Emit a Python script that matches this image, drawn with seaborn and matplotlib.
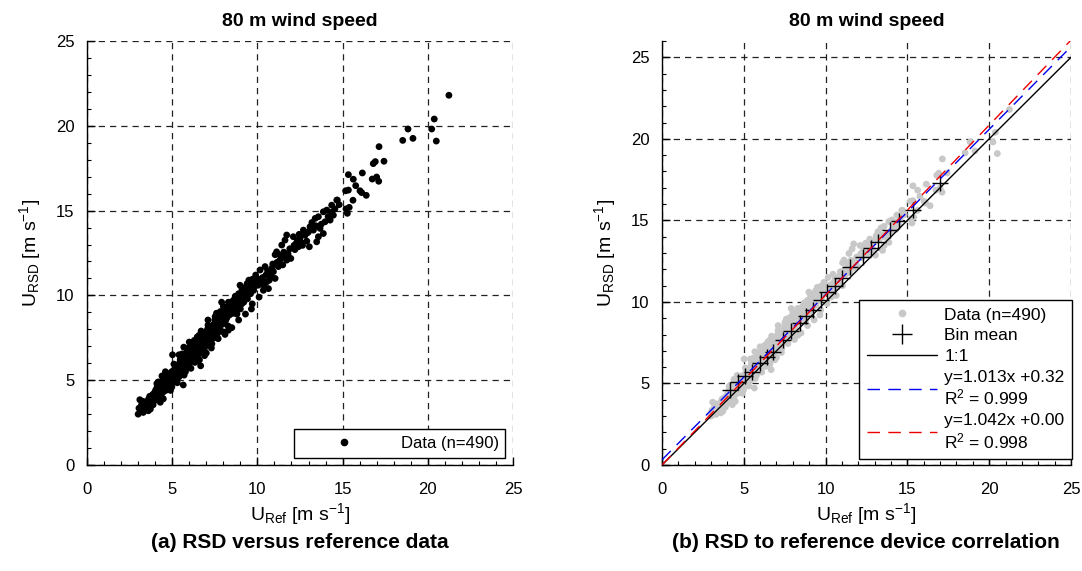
import numpy as np
import pandas as pd
import matplotlib
matplotlib.use("Agg")
import matplotlib.pyplot as plt
from matplotlib.lines import Line2D
from matplotlib.ticker import MultipleLocator
import seaborn as sns

# reference (x) and RSD (y) 80 m wind speed
u_ref = [
    3.0, 3.05, 3.1, 3.15, 3.2, 3.3, 3.35, 3.4, 3.45, 3.5,
    3.55, 3.6, 3.62, 3.7, 3.72, 3.78, 3.8, 3.85, 3.88, 3.9, 3.95, 3.97, 4.0, 3.68,
    4.02, 4.05, 4.08, 4.1, 4.12, 4.18, 4.2, 4.22, 4.25, 4.28, 4.3, 4.32, 4.35, 4.38, 4.4, 4.42, 4.45, 4.47, 4.48, 4.5,
    4.52, 4.55, 4.57, 4.6, 4.62, 4.65, 4.68, 4.7, 4.72, 4.75, 4.78, 4.8, 4.82, 4.85, 4.87, 4.9, 4.92, 4.95, 4.97, 4.98, 4.76, 4.88,
    5.0, 5.02, 5.04, 5.06, 5.08, 5.1, 5.12, 5.15, 5.17, 5.2, 5.22, 5.25, 5.27, 5.3, 5.32, 5.35, 5.37, 5.4, 5.42, 5.45, 5.47, 5.48, 5.5, 5.43, 5.18,
    5.52, 5.55, 5.57, 5.6, 5.62, 5.65, 5.67, 5.7, 5.72, 5.75, 5.77, 5.8, 5.82, 5.85, 5.87, 5.9, 5.92, 5.95, 5.97, 6.0, 5.58, 5.68, 5.88, 5.78, 5.93,
    6.02, 6.05, 6.07, 6.1, 6.12, 6.15, 6.17, 6.2, 6.22, 6.25, 6.27, 6.3, 6.32, 6.35, 6.37, 6.4, 6.42, 6.45, 6.47, 6.48, 6.5, 6.33, 6.13, 6.23, 6.43,
    6.52, 6.55, 6.57, 6.6, 6.62, 6.65, 6.67, 6.7, 6.72, 6.75, 6.77, 6.8, 6.82, 6.85, 6.87, 6.9, 6.92, 6.95, 6.97, 7.0, 6.58, 6.68, 6.78, 6.88, 6.98,
    7.02, 7.05, 7.07, 7.1, 7.12, 7.15, 7.17, 7.2, 7.22, 7.25, 7.27, 7.3, 7.32, 7.35, 7.37, 7.4, 7.42, 7.45, 7.47, 7.5, 7.33, 7.13,
    7.52, 7.55, 7.57, 7.6, 7.62, 7.65, 7.67, 7.7, 7.72, 7.75, 7.77, 7.8, 7.82, 7.85, 7.87, 7.9, 7.92, 7.95, 7.97, 8.0, 7.63, 7.83,
    8.02, 8.05, 8.07, 8.1, 8.12, 8.15, 8.18, 8.2, 8.22, 8.25, 8.28, 8.3, 8.32, 8.35, 8.38, 8.4, 8.42, 8.45, 8.47, 8.5,
    8.52, 8.55, 8.58, 8.6, 8.62, 8.65, 8.68, 8.7, 8.72, 8.75, 8.78, 8.8, 8.82, 8.85, 8.88, 8.9, 8.95, 8.98,
    9.02, 9.05, 9.08, 9.1, 9.15, 9.18, 9.2, 9.25, 9.28, 9.3, 9.35, 9.38, 9.4, 9.42, 9.45, 9.5,
    9.52, 9.55, 9.58, 9.6, 9.62, 9.65, 9.68, 9.7, 9.75, 9.78, 9.8, 9.85, 9.9, 9.95,
    10.05, 10.16, 10.25, 10.35, 10.45, 10.55, 10.65, 10.74, 10.3, 10.5, 10.85, 10.94, 10.6, 10.9, 10.2, 10.4, 10.7, 10.8,
    11.04, 11.04, 11.13, 11.23, 11.33, 11.43, 11.49, 11.62, 11.72, 11.72, 11.96, 11.15, 11.3, 11.55, 11.8, 11.9, 11.4, 11.65,
    12.11, 12.27, 12.41, 12.5, 12.7, 12.2, 12.35, 12.6, 12.8, 12.9, 12.15, 12.45, 12.65, 12.95,
    13.0, 13.05, 13.09, 13.29, 13.39, 13.48, 13.58, 13.58, 13.68, 13.87, 13.87, 13.97, 13.2, 13.75, 13.45,
    14.07, 14.27, 14.36, 14.46, 14.66, 14.69, 14.15, 14.55, 14.8, 14.35,
    15.2, 15.28, 15.34, 15.39, 15.61, 15.18, 15.34, 15.63, 15.77, 16.02, 16.12, 16.16, 16.39, 16.74, 17.0, 17.12, 16.8, 16.92, 17.14, 17.43,
    18.53, 18.84, 19.13, 20.23, 20.38, 20.5, 21.24,
    # edge of the band
    3.3, 3.6, 4.1, 4.3, 4.6, 4.9, 5.1, 5.3, 5.5, 5.7, 5.9, 6.1, 6.3, 6.5, 6.7, 6.9, 7.1, 7.3, 7.5, 7.7,
    7.9, 8.1, 8.3, 8.5, 8.7, 8.9, 9.1, 9.3, 9.5, 9.7, 9.9, 10.1, 6.0, 5.4, 7.6, 8.0, 4.4, 6.6, 9.0, 7.0,
]
u_rsd = [
    3.0, 3.35, 3.85, 3.2, 3.55, 3.1, 3.4, 3.25, 3.7, 3.5,
    3.75, 3.45, 3.9, 3.6, 3.3, 4.0, 3.7, 4.15, 3.55, 3.95, 4.25, 3.8, 4.1, 4.05,
    4.4, 3.9, 4.2, 4.55, 4.0, 4.9, 4.3, 4.65, 3.85, 4.45, 4.75, 4.15, 4.6, 4.4, 4.95, 3.95, 4.7, 4.3, 3.9, 4.55,
    4.85, 5.2, 4.6, 5.0, 4.4, 4.8, 5.1, 4.65, 5.3, 4.95, 4.5, 5.15, 4.85, 5.4, 5.0, 4.75, 5.25, 4.9, 5.5, 4.6, 5.35, 5.05,
    5.2, 6.5, 4.95, 5.45, 5.1, 5.6, 5.3, 4.9, 5.55, 5.25, 5.75, 5.4, 5.05, 5.65, 5.35, 5.9, 5.5, 5.2, 5.8, 5.55, 6.2, 5.3, 5.7, 6.0, 5.85,
    5.95, 5.45, 6.1, 5.75, 6.35, 4.72, 5.9, 6.2, 5.6, 6.05, 6.5, 5.85, 6.3, 6.0, 6.4, 5.75, 6.15, 6.6, 6.25, 5.95, 6.55, 6.95, 6.75, 5.5, 6.9,
    6.4, 6.8, 6.1, 6.55, 6.9, 6.3, 6.7, 6.45, 7.0, 6.6, 6.2, 6.85, 7.1, 6.5, 6.95, 6.7, 7.3, 6.8, 7.55, 6.4, 7.0, 6.05, 7.2, 6.55, 7.15,
    6.75, 7.2, 6.9, 7.4, 7.05, 6.6, 5.85, 7.25, 6.95, 7.5, 7.1, 7.35, 6.9, 7.6, 7.2, 7.45, 7.0, 7.7, 7.3, 6.6, 7.65, 7.0, 7.8, 6.8, 7.55,
    7.75, 7.4, 8.0, 8.55, 7.6, 7.2, 7.9, 7.5, 8.1, 7.7, 7.35, 7.95, 8.2, 7.6, 8.05, 8.15, 7.8, 8.3, 7.5, 8.0, 7.15, 7.85,
    8.75, 7.9, 8.35, 8.1, 8.5, 7.75, 8.25, 8.6, 8.0, 8.4, 8.8, 8.2, 8.55, 7.9, 8.45, 9.6, 8.7, 8.3, 8.9, 7.85, 8.9, 9.05,
    8.6, 8.95, 8.4, 8.8, 9.1, 8.55, 8.95, 9.25, 8.7, 9.05, 8.2, 7.95, 9.35, 8.85, 9.15, 9.45, 8.9, 9.2, 9.55, 9.1,
    9.0, 9.4, 9.7, 9.2, 8.95, 9.5, 9.8, 9.3, 9.65, 9.05, 9.95, 8.9, 9.55, 9.85, 9.4, 10.1, 9.6, 10.6,
    9.75, 10.0, 9.5, 10.3, 9.85, 10.15, 9.6, 10.4, 9.95, 10.25, 10.55, 10.05, 10.7, 9.8, 10.35, 10.6,
    10.2, 10.8, 10.5, 10.1, 10.85, 9.2, 10.45, 10.95, 10.65, 10.3, 10.9, 10.55, 10.75, 11.0,
    10.6, 11.5, 10.7, 10.3, 11.7, 10.8, 10.4, 11.3, 11.05, 11.2, 11.6, 11.4, 11.45, 11.85, 10.95, 10.55, 10.9, 11.15,
    11.0, 12.4, 12.57, 11.7, 12.38, 12.97, 11.8, 13.26, 12.08, 13.56, 12.18, 11.95, 12.05, 12.55, 12.45, 12.75, 12.2, 12.3,
    13.46, 13.06, 12.87, 13.36, 13.85, 12.7, 13.25, 13.1, 13.55, 13.2, 12.95, 13.6, 12.95, 13.7,
    13.75, 12.87, 14.05, 13.85, 14.54, 13.16, 13.46, 14.64, 13.95, 13.65, 14.93, 14.34, 14.3, 14.2, 14.1,
    15.03, 14.44, 15.32, 14.73, 15.62, 15.62, 14.65, 15.1, 15.35, 14.9,
    15.1, 14.84, 16.21, 15.19, 15.61, 16.17, 17.12, 16.85, 16.47, 16.17, 16.06, 17.22, 15.9, 16.86, 16.98, 16.73, 17.77, 17.89, 18.77, 17.91,
    19.14, 19.81, 19.26, 19.81, 20.4, 19.1, 21.8,
    3.75, 3.2, 4.8, 3.7, 5.5, 4.4, 5.95, 4.85, 6.3, 5.3, 6.7, 5.7, 7.35, 6.15, 7.9, 6.45, 8.25, 6.9, 8.55, 7.45,
    9.0, 7.7, 9.6, 8.1, 9.95, 8.55, 10.4, 8.9, 10.9, 9.5, 11.2, 9.9, 7.25, 6.5, 8.95, 9.35, 5.25, 6.2, 9.2, 7.05,
]

# bin means shown as crosses in panel (b)
bin_ref = [4.16, 4.67, 5.1, 5.48, 5.99, 6.4, 6.81, 7.42, 7.9, 8.44, 8.8, 9.25, 9.7, 10.07, 10.55, 10.99,
           11.5, 12.31, 12.8, 13.23, 13.94, 14.5, 15.37, 17.0]
bin_rsd = [4.6, 5.11, 5.45, 5.72, 6.24, 6.65, 6.95, 7.67, 8.2, 8.69, 9.15, 9.51, 10.1, 10.63, 11.0, 11.45,
           12.17, 12.78, 13.3, 13.7, 14.42, 14.95, 15.64, 17.3]

fit_slope = [1.013, 1.042]
fit_offset = [0.32, 0.00]
fit_r2 = [0.999, 0.998]
fit_colors = ["#0000ee", "#ee0000"]

df = pd.DataFrame({"ref": u_ref, "rsd": u_rsd})
bins = pd.DataFrame({"ref": bin_ref, "rsd": bin_rsd})

sns.set_style("ticks")
plt.rcParams["font.family"] = ["Liberation Sans", "DejaVu Sans"]
plt.rcParams["mathtext.fontset"] = "custom"
plt.rcParams["mathtext.rm"] = "Liberation Sans"
plt.rcParams["mathtext.it"] = "Liberation Sans"
for key in ["text.color", "axes.labelcolor", "xtick.color", "ytick.color", "axes.edgecolor"]:
    plt.rcParams[key] = "black"

fig = plt.figure(figsize=(10.82, 5.71), dpi=100)
ax1 = fig.add_axes([0.0804, 0.1856, 0.3937, 0.7426])
ax2 = fig.add_axes([0.6118, 0.1856, 0.378, 0.7426])

xlabel = r"$\mathregular{U_{Ref}\ [m\ s^{-1}]}$"
ylabel = r"$\mathregular{U_{RSD}\ [m\ s^{-1}]}$"


def style_axes(ax, ymax):
    ax.set_xlim(0, 25)
    ax.set_ylim(0, ymax)
    ax.xaxis.set_major_locator(MultipleLocator(5))
    ax.yaxis.set_major_locator(MultipleLocator(5))
    ax.xaxis.set_minor_locator(MultipleLocator(1))
    ax.yaxis.set_minor_locator(MultipleLocator(1))
    ax.tick_params(which="major", direction="in", length=6, width=1, labelsize=12)
    ax.tick_params(axis="x", which="major", pad=12)
    ax.tick_params(axis="y", which="major", pad=9)
    ax.tick_params(which="minor", direction="in", length=3, width=0.8)
    ax.grid(True, which="major", color="#222222", linestyle=(0, (5, 4)), linewidth=0.9)
    for side in ["top", "right"]:
        ax.spines[side].set_visible(False)
    for side in ["left", "bottom"]:
        ax.spines[side].set_linewidth(1)
    ax.set_axisbelow(True)
    ax.set_xlabel(xlabel, fontsize=14, labelpad=3)
    ax.set_ylabel(ylabel, fontsize=14, labelpad=9)
    ax.set_title("80 m wind speed", fontsize=14, fontweight="bold", pad=11)


# panel (a)
sns.scatterplot(data=df, x="ref", y="rsd", ax=ax1, color="black", s=24,
                edgecolor="none", linewidth=0, legend=False)
style_axes(ax1, 25)
h_a = [Line2D([], [], marker="o", color="black", linestyle="none", markersize=4.5)]
leg_a = ax1.legend(h_a, ["Data (n=490)"], loc="lower right", fontsize=12,
                   handlelength=5.2, borderaxespad=0.45, fancybox=False,
                   edgecolor="black", framealpha=1)
leg_a.get_frame().set_linewidth(1)

# panel (b)
sns.scatterplot(data=df, x="ref", y="rsd", ax=ax2, color="#c8c8c8", s=24,
                edgecolor="none", linewidth=0, legend=False, zorder=2)
sns.scatterplot(data=bins, x="ref", y="rsd", ax=ax2, color="black", marker="+",
                s=120, linewidth=1.0, legend=False, zorder=3)
ax2.axline((0, 0), slope=1, color="black", linewidth=1, zorder=4)
for k in range(2):
    ax2.axline((0, fit_offset[k]), slope=fit_slope[k], color=fit_colors[k],
               linewidth=1, linestyle=(0, (9, 6)), zorder=5)
style_axes(ax2, 26)

h_b = [
    Line2D([], [], marker="o", color="#c8c8c8", linestyle="none", markersize=4.5),
    Line2D([], [], marker="+", color="black", linestyle="none", markersize=14, markeredgewidth=1),
    Line2D([], [], color="black", linewidth=1),
    Line2D([], [], color=fit_colors[0], linewidth=1, linestyle=(0, (9, 6))),
    Line2D([], [], color=fit_colors[1], linewidth=1, linestyle=(0, (9, 6))),
]
lab_b = ["Data (n=490)", "Bin mean", "1:1"]
for k in range(2):
    lab_b.append("y=%.3fx +%.2f\n$\\mathregular{R^2}$ = %.3f" % (fit_slope[k], fit_offset[k], fit_r2[k]))
leg_b = ax2.legend(h_b, lab_b, loc="lower right", bbox_to_anchor=(1.012, 0.005),
                   fontsize=12.5, handlelength=4.0, handletextpad=0.45, labelspacing=0.32,
                   borderaxespad=0.2, borderpad=0.45, fancybox=False, edgecolor="black", framealpha=1)
leg_b.get_frame().set_linewidth(1)

fig.text(0.2773, 0.05, "(a) RSD versus reference data", ha="center", va="center",
         fontsize=15, fontweight="bold")
fig.text(0.8005, 0.05, "(b) RSD to reference device correlation", ha="center", va="center",
         fontsize=15, fontweight="bold")

fig.savefig("out.png", dpi=100)
